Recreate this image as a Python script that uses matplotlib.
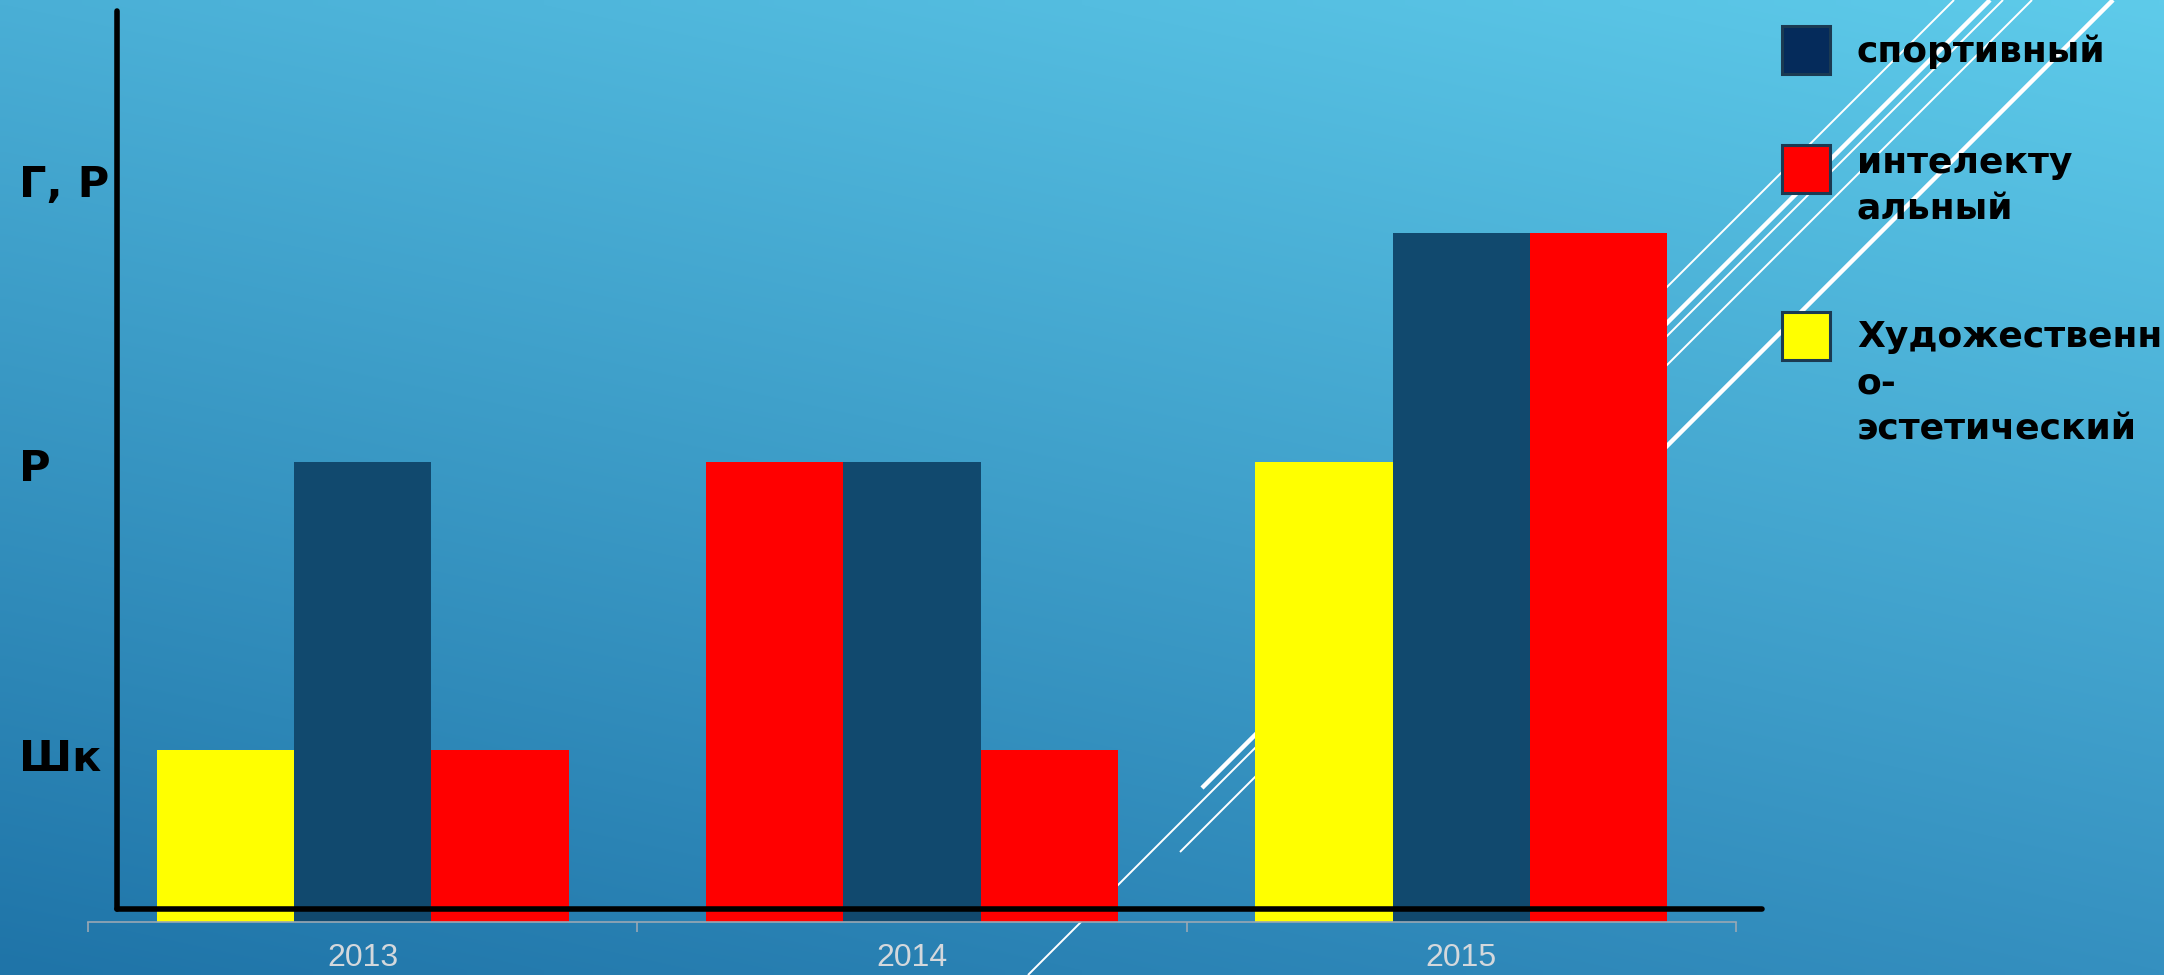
import numpy as np
import matplotlib
matplotlib.use("Agg")
import matplotlib.pyplot as plt
from matplotlib.patches import Rectangle
from matplotlib.transforms import blended_transform_factory

# ── data ──
years = ["2013", "2014", "2015"]
left_values = [0.75, 2, 2]      # first bar in each group
mid_values = [2, 2, 3]          # спортивный
right_values = [0.75, 0.75, 3]  # интелектуальный
level_labels = ["Шк", "Р", "Г, Р"]
level_positions = [0.71, 1.97, 3.21]
legend_labels = ["спортивный", "интелекту\nальный", "Художественн\nо-\nэстетический"]

YELLOW = "#ffff00"
RED = "#ff0000"
NAVY = "#11496e"
left_colors = [YELLOW, RED, YELLOW]
legend_colors = ["#052b5b", RED, YELLOW]

W, H = 2164, 975
fig = plt.figure(figsize=(W / 100, H / 100), dpi=100)

# ── background: gradient + decorative lines (pixel coords) ──
bg = fig.add_axes([0, 0, 1, 1], zorder=0)
bg.set_xlim(0, W)
bg.set_ylim(H, 0)
bg.axis("off")
tl = np.array([74, 175, 214]) / 255
tr = np.array([94, 203, 234]) / 255
bl = np.array([31, 116, 168]) / 255
br = np.array([53, 144, 192]) / 255
u = np.linspace(0, 1, 200)[None, :, None]
v = np.linspace(0, 1, 100)[:, None, None]
grad = (1 - v) * ((1 - u) * tl + u * tr) + v * ((1 - u) * bl + u * br)
bg.imshow(grad, extent=[0, W, H, 0], aspect="auto", interpolation="bilinear")

# lines run at 45 degrees: (start_y, x+y, width)
deco = [(975, 2003, 1.4), (852, 2032, 1.4), (788, 1990, 3.2),
        (600, 1954, 1.4), (700, 2113, 3.2)]
for y0, c, lw in deco:
    bg.plot([c - y0, c], [y0, 0], color="white", lw=lw, solid_capstyle="butt")

# ── main chart ──
ax = fig.add_axes([88 / W, (H - 922) / H, 1648 / W, 919 / H], zorder=1)
ax.set_facecolor("none")
x = np.arange(len(years))
bw = 0.25
ax.bar(x - bw, left_values, bw, color=left_colors, zorder=2)
ax.bar(x, mid_values, bw, color=NAVY, zorder=2)
ax.bar(x + bw, right_values, bw, color=RED, zorder=2)
ax.set_xlim(-0.5, 2.5)
ax.set_ylim(0, 4)

for s in ["top", "right", "left"]:
    ax.spines[s].set_visible(False)
ax.spines["bottom"].set_color("#9aa8b4")
ax.spines["bottom"].set_linewidth(1.2)
ax.set_xticks(x, years, fontsize=23, color="#d4d8dc", family="Liberation Sans")
ax.set_xticks([-0.5, 0.5, 1.5, 2.5], minor=True)
ax.tick_params(axis="x", which="major", length=0, pad=15)
ax.tick_params(axis="x", which="minor", length=7, color="#9aa8b4", width=1.2)
ax.set_yticks([])

trans = blended_transform_factory(fig.transFigure, ax.transData)
for lab, pos in zip(level_labels, level_positions):
    ax.text(19 / W, pos, lab, transform=trans, fontsize=31,
            fontweight="bold", color="black", va="center", ha="left")

# ── front overlay: black axes lines and legend ──
fr = fig.add_axes([0, 0, 1, 1], zorder=3)
fr.set_facecolor("none")
fr.set_xlim(0, W)
fr.set_ylim(H, 0)
fr.axis("off")
fr.plot([117, 117], [11, 909], color="black", lw=4, solid_capstyle="round")
fr.plot([117, 1762], [909, 909], color="black", lw=4, solid_capstyle="round")

square_tops = [26, 145, 312]
text_offsets = [36, 28, 35]
for lab, col, top, off in zip(legend_labels, legend_colors, square_tops, text_offsets):
    fr.add_patch(Rectangle((1782, top), 48, 48, facecolor=col,
                           edgecolor="#1b3a52", lw=2.2))
    for i, line in enumerate(lab.split("\n")):
        fr.text(1857, top + off + i * 46, line, fontsize=26, fontweight="bold",
                color="black", va="baseline", ha="left")

fig.savefig("out.png", dpi=100)
